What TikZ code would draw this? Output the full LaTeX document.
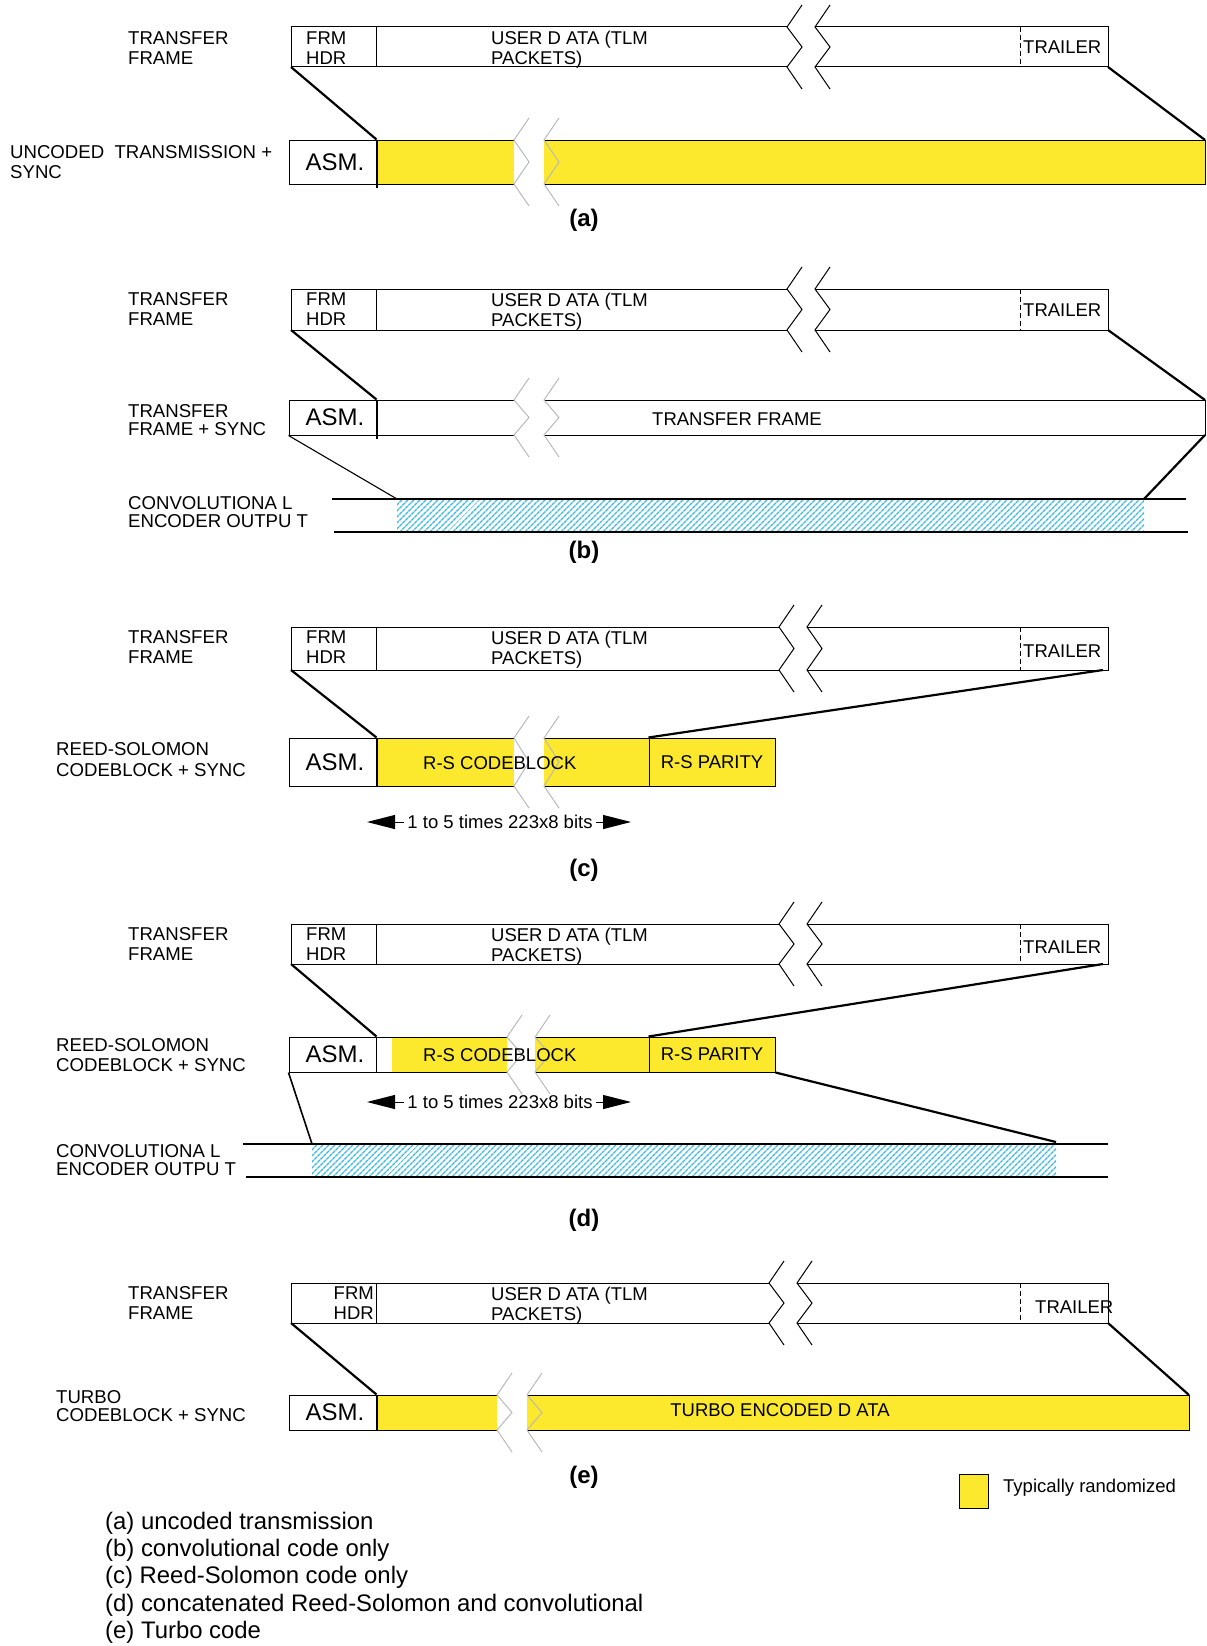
\documentclass[tikz,border=0pt]{standalone}
\usepackage{fontspec}
\setmainfont{Liberation Sans}
\usetikzlibrary{arrows.meta,patterns.meta}
\definecolor{randyellow}{RGB}{252,232,44}
\definecolor{hatchblue}{RGB}{60,185,232}
\definecolor{breakgray}{RGB}{185,185,185}
\newlength{\AsmWidth}
\newlength{\ParityWidth}
\setlength{\AsmWidth}{87pt}
\setlength{\ParityWidth}{126pt}
\newcommand{\BreakMark}[4]{%
  \draw[#1, line width=1pt, line join=miter] (#2+15,#3-22) -- (#2,#3) -- (#2+15,{(#3+#4)/2}) -- (#2,#4) -- (#2+15,#4+22);%
}
\newcommand{\FrameRow}[4]{%
  \draw[box line] (#4,#2) -- (291,#2) -- (291,#3) -- (#4,#3);
  \draw[box line] (#4+28,#2) -- (1108,#2) -- (1108,#3) -- (#4+28,#3);
  \draw[box line] (376,#2) -- (376,#3);
  \draw[box line, dash pattern=on 5pt off 3pt] (1020,#2) -- (1020,#3);
  \BreakMark{black}{#4}{#2}{#3}
  \BreakMark{black}{#4+28}{#2}{#3}
  \coordinate (#1-sw) at (291,#3);
  \coordinate (#1-se) at (1108,#3);
}
\tikzset{
  box line/.style={draw=black, line width=1pt},
  divider/.style={draw=black, line width=2pt},
  link/.style={line width=2.2pt},
  link thin/.style={line width=1.1pt},
  enc line/.style={line width=1.8pt},
  asm box/.style={draw=black, line width=1pt, fill=white, minimum width=\AsmWidth, inner sep=0pt, font=\fontsize{24}{26}\selectfont},
  parity box/.style={draw=black, line width=1pt, fill=randyellow, minimum width=\ParityWidth, inner sep=0pt, font=\fontsize{18.5}{20}\selectfont},
  row label/.style={anchor=west, inner sep=0pt, align=left, font=\fontsize{18.6}{20}\selectfont},
  field text/.style={anchor=west, inner sep=0pt, align=left, font=\fontsize{18.5}{20}\selectfont},
  caption/.style={inner sep=0pt, font=\fontsize{24}{26}\selectfont\bfseries},
  list text/.style={anchor=base west, inner sep=0pt, font=\fontsize{23.9}{27}\selectfont},
  hatch/.style={pattern={Lines[angle=45,distance=4pt,line width=1.5pt]}, pattern color=hatchblue},
  span arrow/.style={-{Triangle[length=28pt,width=14pt]}, line width=1pt}
}

\begin{document}
\begin{tikzpicture}[x=1pt, y=-1pt]
  \useasboundingbox (0,0) rectangle (1207,1646);

  % (a)
  \FrameRow{frameA}{27}{67}{787}
  \node[row label] (tfA) at (128,48) {TRANSFER\\FRAME};
  \node[field text] (hdrA) at (306,48) {FRM\\HDR};
  \node[field text] (userA) at (491,49.5) {USER D ATA (TLM\\PACKETS)};
  \node[field text] (trlA) at (1023,47) {TRAILER};

  \fill[randyellow] (376,140) rectangle (514,184);
  \fill[randyellow] (544,140) rectangle (1205,184);
  \draw[box line] (514,140) -- (376,140) (376,184) -- (514,184);
  \draw[box line] (544,140) -- (1205,140) -- (1205,184) -- (544,184);
  \BreakMark{breakgray}{514}{140}{184}
  \BreakMark{breakgray}{544}{140}{184}
  \node[asm box, minimum height=44pt] (asmA) at (332.5,162) {\hspace*{5pt}ASM.};
  \draw[divider] (asmA.north east) -- ([yshift=-3pt]asmA.south east);
  \coordinate (rowA-ne) at (1205,140);
  \node[row label] (synA) at (10,162) {UNCODED~~TRANSMISSION +\\SYNC};
  \draw[link] (frameA-sw) -- (asmA.north east);
  \draw[link] (frameA-se) -- (rowA-ne);
  \node[caption] (capA) at (584,220) {(a)};

  % (b)
  \FrameRow{frameB}{289}{330}{787}
  \node[row label] (tfB) at (128,309) {TRANSFER\\FRAME};
  \node[field text] (hdrB) at (306,309) {FRM\\HDR};
  \node[field text] (userB) at (491,312) {USER D ATA (TLM\\PACKETS)};
  \node[field text] (trlB) at (1023,310) {TRAILER};

  \draw[box line] (514,400) -- (376,400) (376,435) -- (514,435);
  \draw[box line] (544,400) -- (1205,400) -- (1205,435) -- (544,435);
  \BreakMark{breakgray}{514}{400}{435}
  \BreakMark{breakgray}{544}{400}{435}
  \node[asm box, minimum height=35pt] (asmB) at (332.5,417.5) {\hspace*{5pt}ASM.};
  \draw[divider] (asmB.north east) -- ([yshift=-3pt]asmB.south east);
  \node[field text, anchor=center] (tfrB) at (737,419) {TRANSFER FRAME};
  \coordinate (rowB-ne) at (1205,400);
  \coordinate (rowB-se) at (1205,435);
  \node[row label, font=\fontsize{18.6}{17.5}\selectfont] (synB) at (128,420) {TRANSFER\\FRAME + SYNC};
  \draw[link] (frameB-sw) -- (asmB.north east);
  \draw[link] (frameB-se) -- (rowB-ne);

  \fill[hatch] (397,499) rectangle (1144,532);
  \draw[enc line] (332,499) -- (1186,499);
  \draw[enc line] (334,532) -- (1188,532);
  \coordinate (encB-nw) at (397,499);
  \coordinate (encB-ne) at (1144,499);
  \node[row label, font=\fontsize{18.6}{17.5}\selectfont] (convB) at (128,512) {CONVOLUTIONA L\\ENCODER OUTPU T};
  \draw[link thin] (asmB.south west) -- (encB-nw);
  \draw[link] (rowB-se) -- (encB-ne);
  \node[caption] (capB) at (584,552) {(b)};

  % (c)
  \FrameRow{frameC}{627}{670}{779}
  \node[row label] (tfC) at (128,647) {TRANSFER\\FRAME};
  \node[field text] (hdrC) at (306,647) {FRM\\HDR};
  \node[field text] (userC) at (491,650) {USER D ATA (TLM\\PACKETS)};
  \node[field text] (trlC) at (1023,651) {TRAILER};

  \fill[randyellow] (376,738) rectangle (514,786);
  \fill[randyellow] (544,738) rectangle (649,786);
  \draw[box line] (514,738) -- (376,738) (376,786) -- (514,786);
  \draw[box line] (544,738) -- (649,738) (649,786) -- (544,786);
  \BreakMark{breakgray}{514}{738}{786}
  \BreakMark{breakgray}{544}{738}{786}
  \node[asm box, minimum height=48pt] (asmC) at (332.5,762) {\hspace*{5pt}ASM.};
  \draw[divider] (asmC.north east) -- (asmC.south east);
  \node[parity box, minimum height=48pt] (parC) at (712,762) {R-S PARITY};
  \node[field text] (cbC) at (423,763) {R-S CODEBLOCK};
  \coordinate (frameC-tr) at (1103,670);
  \node[row label, font=\fontsize{18.6}{21}\selectfont] (rsC) at (56,760) {REED-SOLOMON\\CODEBLOCK + SYNC};
  \draw[link] (frameC-sw) -- (asmC.north east);
  \draw[link] (frameC-tr) -- (parC.north west);

  \node[field text, anchor=center, inner xsep=3pt] (spanC) at (500,822) {1 to 5 times 223x8 bits};
  \coordinate (spanC-l) at (367,822);
  \coordinate (spanC-r) at (631,822);
  \draw[span arrow] (spanC.west) -- (spanC-l);
  \draw[span arrow] (spanC.east) -- (spanC-r);
  \node[caption] (capC) at (584,870) {(c)};

  % (d)
  \FrameRow{frameD}{924}{964}{779}
  \node[row label] (tfD) at (128,944) {TRANSFER\\FRAME};
  \node[field text] (hdrD) at (306,944) {FRM\\HDR};
  \node[field text] (userD) at (491,947) {USER D ATA (TLM\\PACKETS)};
  \node[field text] (trlD) at (1023,947) {TRAILER};

  \fill[randyellow] (392,1037) rectangle (507,1072);
  \fill[randyellow] (535,1037) rectangle (649,1072);
  \draw[box line] (507,1037) -- (376,1037) (376,1072) -- (507,1072);
  \draw[box line] (535,1037) -- (649,1037) (649,1072) -- (535,1072);
  \BreakMark{breakgray}{507}{1037}{1072}
  \BreakMark{breakgray}{535}{1037}{1072}
  \node[asm box, minimum height=35pt] (asmD) at (332.5,1054.5) {\hspace*{5pt}ASM.};
  \node[parity box, minimum height=35pt] (parD) at (712,1054.5) {R-S PARITY};
  \node[field text] (cbD) at (423,1055) {R-S CODEBLOCK};
  \coordinate (frameD-tr) at (1103,964);
  \node[row label] (rsD) at (56,1055) {REED-SOLOMON\\CODEBLOCK + SYNC};
  \draw[link] (frameD-sw) -- (asmD.north east);
  \draw[link] (frameD-tr) -- (parD.north west);

  \node[field text, anchor=center, inner xsep=3pt] (spanD) at (500,1102) {1 to 5 times 223x8 bits};
  \coordinate (spanD-l) at (367,1102);
  \coordinate (spanD-r) at (631,1102);
  \draw[span arrow] (spanD.west) -- (spanD-l);
  \draw[span arrow] (spanD.east) -- (spanD-r);

  \fill[hatch] (312,1144) rectangle (1056,1177);
  \draw[enc line] (243,1144) -- (1108,1144);
  \draw[enc line] (246,1177) -- (1108,1177);
  \coordinate (encD-nw) at (312,1144);
  \coordinate (encD-ne) at (1056,1142);
  \node[row label, font=\fontsize{18.6}{17.5}\selectfont] (convD) at (56,1160) {CONVOLUTIONA L\\ENCODER OUTPU T};
  \draw[link thin, line width=1.6pt] (asmD.south west) -- (encD-nw);
  \draw[link] (parD.south east) -- (encD-ne);
  \node[caption] (capD) at (584,1220) {(d)};

  % (e)
  \FrameRow{frameE}{1283}{1323}{769}
  \node[row label] (tfE) at (128,1303) {TRANSFER\\FRAME};
  \node[field text, anchor=east, align=right] (hdrE) at (374,1303) {FRM\\HDR};
  \node[field text] (userE) at (491,1306) {USER D ATA (TLM\\PACKETS)};
  \node[field text] (trlE) at (1035,1307) {TRAILER};

  \fill[randyellow] (376,1395) rectangle (497,1430);
  \fill[randyellow] (527,1395) rectangle (1189,1430);
  \draw[box line] (497,1395) -- (376,1395) (376,1430) -- (497,1430);
  \draw[box line] (527,1395) -- (1189,1395) -- (1189,1430) -- (527,1430);
  \BreakMark{breakgray}{497}{1395}{1430}
  \BreakMark{breakgray}{527}{1395}{1430}
  \node[asm box, minimum height=35pt] (asmE) at (332.5,1412.5) {\hspace*{5pt}ASM.};
  \draw[divider] (asmE.north east) -- (asmE.south east);
  \node[field text, anchor=center] (turboE) at (780,1410) {TURBO ENCODED D ATA};
  \coordinate (rowE-ne) at (1189,1395);
  \node[row label, font=\fontsize{18.6}{18}\selectfont] (tcE) at (56,1406) {TURBO\\CODEBLOCK + SYNC};
  \draw[link] (frameE-sw) -- (asmE.north east);
  \draw[link] (frameE-se) -- (rowE-ne);
  \node[caption] (capE) at (584,1477) {(e)};

  \node[draw=black, line width=1pt, fill=randyellow, minimum width=29pt, minimum height=34pt, inner sep=0pt] (legendbox) at (973.5,1491) {};
  \node[field text] (legendtxt) at (1003,1488) {Typically randomized};

  \foreach \entry [count=\k from 0] in {{(a) uncoded transmission},{(b) convolutional code only},{(c) Reed-Solomon code only},{(d) concatenated Reed-Solomon and convolutional},{(e) Turbo code}}
    \node[list text] (item\k) at (105,1529+27.4*\k) {\entry};
\end{tikzpicture}
\end{document}
